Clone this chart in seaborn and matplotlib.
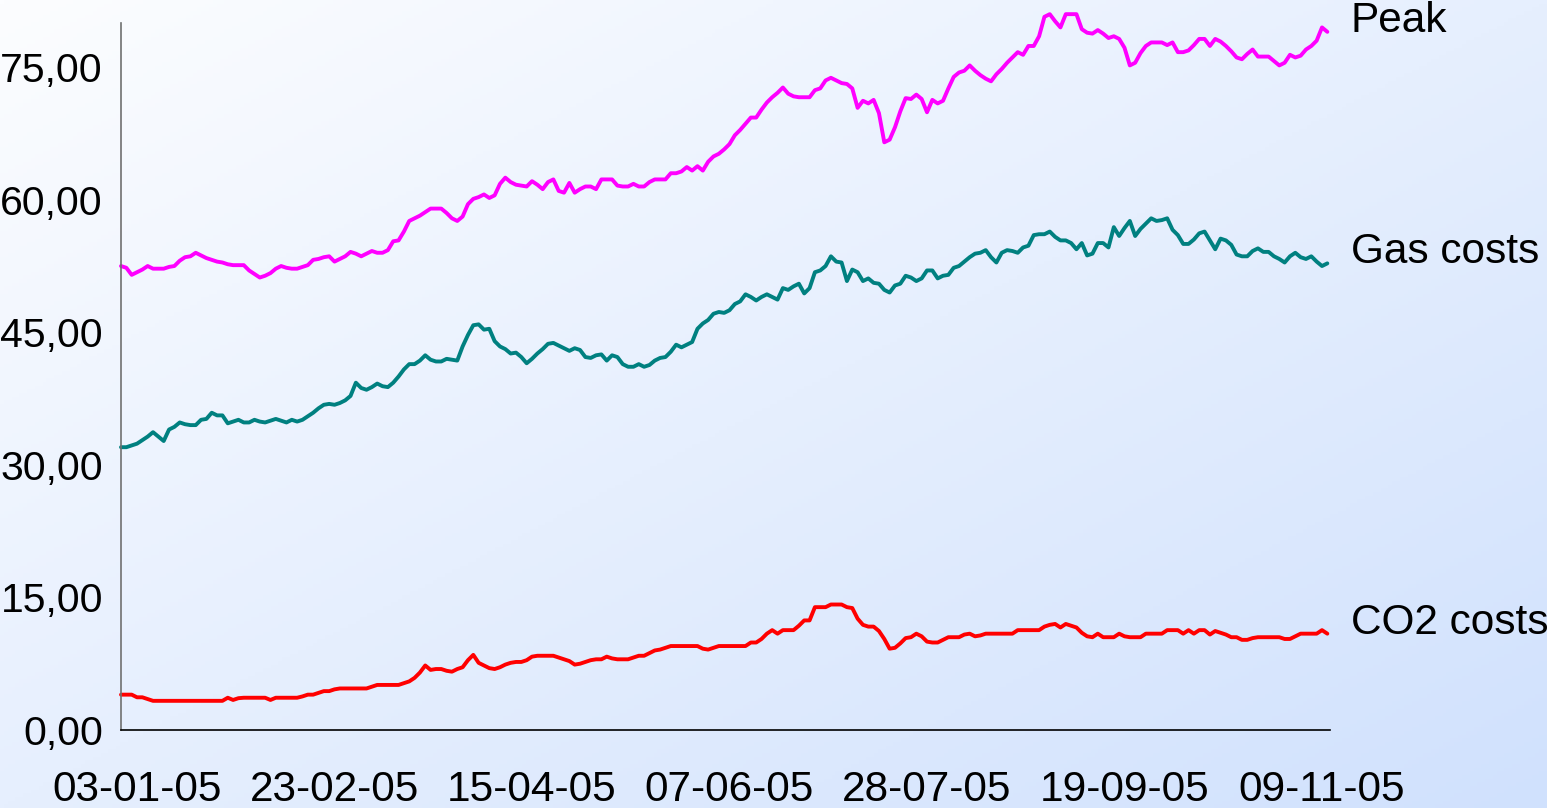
import numpy as np
import pandas as pd
import matplotlib
matplotlib.use("Agg")
import matplotlib.pyplot as plt
import matplotlib.transforms as mtransforms
import seaborn as sns

# daily values (business days from 03-01-05)
peak = [
    52.5, 52.3, 51.5, 51.8, 52.1, 52.5, 52.2, 52.2, 52.2, 52.4,
    52.5, 53.1, 53.5, 53.6, 54.0, 53.7, 53.4, 53.2, 53.0, 52.9,
    52.7, 52.6, 52.6, 52.6, 52.0, 51.6, 51.2, 51.4, 51.7, 52.2,
    52.5, 52.3, 52.2, 52.2, 52.4, 52.6, 53.2, 53.3, 53.5, 53.6,
    53.0, 53.3, 53.6, 54.1, 53.9, 53.6, 53.9, 54.2, 54.0, 54.0,
    54.3, 55.3, 55.4, 56.4, 57.6, 57.9, 58.2, 58.6, 59.0, 59.0,
    59.0, 58.5, 57.9, 57.6, 58.1, 59.5, 60.1, 60.3, 60.6, 60.2,
    60.5, 61.8, 62.5, 62.0, 61.7, 61.6, 61.5, 62.1, 61.7, 61.2,
    62.0, 62.3, 61.0, 60.8, 61.9, 60.8, 61.2, 61.5, 61.5, 61.2,
    62.3, 62.3, 62.3, 61.6, 61.5, 61.5, 61.8, 61.5, 61.5, 62.0,
    62.3, 62.3, 62.3, 63.0, 63.0, 63.2, 63.7, 63.3, 63.8, 63.3,
    64.3, 64.9, 65.2, 65.7, 66.3, 67.3, 67.9, 68.6, 69.3, 69.3,
    70.2, 71.0, 71.6, 72.1, 72.7, 72.0, 71.7, 71.6, 71.6, 71.6,
    72.4, 72.6, 73.5, 73.8, 73.5, 73.2, 73.1, 72.6, 70.4, 71.2,
    70.9, 71.3, 69.8, 66.5, 66.8, 68.2, 70.0, 71.5, 71.4, 71.9,
    71.4, 69.9, 71.3, 70.9, 71.2, 72.6, 73.9, 74.4, 74.6, 75.2,
    74.6, 74.1, 73.7, 73.4, 74.2, 74.8, 75.5, 76.1, 76.7, 76.4,
    77.4, 77.4, 78.5, 80.7, 81.0, 80.2, 79.5, 81.0, 81.0, 81.0,
    79.3, 78.9, 78.8, 79.2, 78.8, 78.3, 78.5, 78.2, 77.2, 75.2,
    75.5, 76.6, 77.4, 77.8, 77.8, 77.8, 77.5, 77.8, 76.7, 76.7,
    76.9, 77.5, 78.2, 78.2, 77.4, 78.2, 77.9, 77.4, 76.8, 76.1,
    75.9, 76.5, 77.0, 76.2, 76.2, 76.2, 75.7, 75.2, 75.5, 76.4,
    76.1, 76.3, 77.0, 77.4, 78.0, 79.5, 79.0,
]

gas = [
    32.0, 32.0, 32.2, 32.4, 32.8, 33.2, 33.7, 33.2, 32.7, 34.0,
    34.3, 34.8, 34.6, 34.5, 34.5, 35.1, 35.2, 35.9, 35.6, 35.6,
    34.7, 34.9, 35.1, 34.8, 34.8, 35.1, 34.9, 34.8, 35.0, 35.2,
    35.0, 34.8, 35.1, 34.9, 35.1, 35.5, 35.9, 36.4, 36.8, 36.9,
    36.8, 37.0, 37.3, 37.8, 39.3, 38.7, 38.5, 38.8, 39.2, 38.9,
    38.8, 39.3, 40.0, 40.8, 41.4, 41.4, 41.8, 42.4, 41.9, 41.7,
    41.7, 42.0, 41.9, 41.8, 43.4, 44.7, 45.8, 45.9, 45.3, 45.4,
    44.0, 43.4, 43.1, 42.6, 42.7, 42.2, 41.5, 42.0, 42.6, 43.1,
    43.7, 43.8, 43.5, 43.2, 42.9, 43.2, 43.0, 42.2, 42.1, 42.4,
    42.5, 41.8, 42.4, 42.2, 41.4, 41.1, 41.1, 41.4, 41.1, 41.3,
    41.8, 42.1, 42.2, 42.8, 43.6, 43.3, 43.6, 43.9, 45.4, 46.0,
    46.4, 47.1, 47.3, 47.2, 47.5, 48.2, 48.5, 49.3, 49.0, 48.6,
    49.0, 49.3, 49.0, 48.7, 50.0, 49.8, 50.2, 50.5, 49.4, 50.0,
    51.8, 52.0, 52.5, 53.6, 53.0, 52.9, 50.8, 52.1, 51.8, 50.8,
    51.1, 50.6, 50.5, 49.8, 49.5, 50.3, 50.5, 51.4, 51.2, 50.8,
    51.1, 52.0, 52.0, 51.1, 51.4, 51.5, 52.3, 52.5, 53.0, 53.5,
    53.9, 54.0, 54.3, 53.5, 52.9, 54.0, 54.3, 54.2, 54.0, 54.6,
    54.8, 56.0, 56.1, 56.1, 56.4, 55.8, 55.4, 55.4, 55.1, 54.4,
    55.1, 53.7, 53.9, 55.1, 55.1, 54.6, 56.9, 55.9, 56.8, 57.6,
    55.9, 56.7, 57.3, 57.9, 57.6, 57.7, 57.9, 56.6, 56.0, 55.0,
    55.0, 55.5, 56.2, 56.4, 55.4, 54.4, 55.6, 55.4, 54.9, 53.8,
    53.6, 53.6, 54.2, 54.5, 54.1, 54.1, 53.6, 53.3, 52.9, 53.6,
    54.0, 53.5, 53.3, 53.6, 53.0, 52.5, 52.8,
]

co2 = [
    4.0, 4.0, 4.0, 3.7, 3.7, 3.5, 3.3, 3.3, 3.3, 3.3,
    3.3, 3.3, 3.3, 3.3, 3.3, 3.3, 3.3, 3.3, 3.3, 3.3,
    3.65, 3.4, 3.6, 3.65, 3.65, 3.65, 3.65, 3.65, 3.4, 3.65,
    3.65, 3.65, 3.65, 3.65, 3.8, 4.0, 4.0, 4.2, 4.4, 4.4,
    4.6, 4.7, 4.7, 4.7, 4.7, 4.7, 4.7, 4.9, 5.1, 5.1,
    5.1, 5.1, 5.1, 5.3, 5.5, 5.9, 6.5, 7.3, 6.8, 6.9,
    6.9, 6.7, 6.6, 6.9, 7.1, 7.9, 8.5, 7.6, 7.3, 7.0,
    6.9, 7.1, 7.4, 7.6, 7.7, 7.7, 7.9, 8.3, 8.4, 8.4,
    8.4, 8.4, 8.2, 8.0, 7.8, 7.4, 7.5, 7.7, 7.9, 8.0,
    8.0, 8.3, 8.1, 8.0, 8.0, 8.0, 8.2, 8.4, 8.4, 8.7,
    9.0, 9.1, 9.3, 9.5, 9.5, 9.5, 9.5, 9.5, 9.5, 9.2,
    9.1, 9.3, 9.5, 9.5, 9.5, 9.5, 9.5, 9.5, 9.9, 9.9,
    10.3, 10.9, 11.3, 10.9, 11.3, 11.3, 11.3, 11.8, 12.4, 12.4,
    13.9, 13.9, 13.9, 14.2, 14.2, 14.2, 13.9, 13.8, 12.6, 11.9,
    11.7, 11.7, 11.2, 10.3, 9.2, 9.3, 9.8, 10.4, 10.5, 10.9,
    10.6, 10.0, 9.9, 9.9, 10.2, 10.5, 10.5, 10.5, 10.8, 10.9,
    10.6, 10.7, 10.9, 10.9, 10.9, 10.9, 10.9, 10.9, 11.3, 11.3,
    11.3, 11.3, 11.3, 11.7, 11.9, 12.0, 11.6, 12.0, 11.8, 11.6,
    11.0, 10.6, 10.5, 10.9, 10.5, 10.5, 10.5, 10.9, 10.6, 10.5,
    10.5, 10.5, 10.9, 10.9, 10.9, 10.9, 11.3, 11.3, 11.3, 10.9,
    11.3, 10.9, 11.3, 11.3, 10.8, 11.2, 11.0, 10.8, 10.5, 10.5,
    10.2, 10.2, 10.4, 10.5, 10.5, 10.5, 10.5, 10.5, 10.3, 10.3,
    10.6, 10.9, 10.9, 10.9, 10.9, 11.3, 10.9,
]

series_names = ["Peak", "Gas costs", "CO2 costs"]
series_colors = ["#FF00FF", "#008080", "#FF0000"]
y_ticks = [0, 15, 30, 45, 60, 75]

dates = pd.bdate_range("2005-01-03", periods=len(peak))
df = pd.DataFrame({"day": np.arange(len(dates)), "Peak": peak,
                   "Gas costs": gas, "CO2 costs": co2})

sns.set_style("white")
plt.rcParams["font.family"] = ["Liberation Sans", "DejaVu Sans"]

fig = plt.figure(figsize=(15.47, 8.08), dpi=100)

# background gradient (white top-left -> light blue bottom-right)
bg = fig.add_axes([0, 0, 1, 1], zorder=-10)
u = np.linspace(0, 1, 400)
v = np.linspace(0, 1, 220)
uu, vv = np.meshgrid(u, v)
t = (uu + vv) / 2
c0 = np.array([252, 253, 255]) / 255
c1 = np.array([208, 225, 253]) / 255
img = c0[None, None, :] * (1 - t[..., None]) + c1[None, None, :] * t[..., None]
bg.imshow(img, aspect="auto", extent=[0, 1, 0, 1], origin="upper")
bg.axis("off")

ax = fig.add_axes([121 / 1547, 1 - 730 / 808, (1330 - 121) / 1547, (730 - 23) / 808])
ax.set_facecolor("none")

for name, col in zip(series_names, series_colors):
    sns.lineplot(data=df, x="day", y=name, ax=ax, color=col, linewidth=2.8,
                 clip_on=False, legend=False)
    last = df[name].iloc[-1]
    ax.annotate(name, xy=(df["day"].iloc[-1], last), xytext=(17, 8),
                textcoords="offset points", fontsize=30.5, va="center",
                ha="left", color="black", annotation_clip=False)

ax.set_xlim(0, 226.5)
ax.set_ylim(0, 80)
ax.set_xlabel("")
ax.set_ylabel("")

tick_pos = np.arange(0, len(dates), 37)
ax.set_xticks(tick_pos)
ax.set_xticklabels([dates[i].strftime("%d-%m-%y") for i in tick_pos])
ax.set_yticks(y_ticks)
ax.set_yticklabels([f"{v:.2f}".replace(".", ",") for v in y_ticks])

ax.tick_params(axis="both", length=9, width=1.2, direction="out", colors="black")
ax.tick_params(axis="x", labelsize=30.5, pad=20)
ax.tick_params(axis="y", labelsize=29.5, pad=4)

# x labels sit a little right of their ticks
shift = mtransforms.ScaledTranslation(16 / 100, 0, fig.dpi_scale_trans)
for lab in ax.get_xticklabels():
    lab.set_transform(lab.get_transform() + shift)

for s in ["top", "right"]:
    ax.spines[s].set_visible(False)
ax.spines["left"].set_color("#707070")
ax.spines["bottom"].set_color("black")
ax.spines["left"].set_linewidth(1.2)
ax.spines["bottom"].set_linewidth(1.2)

fig.savefig("out.png", dpi=100)
